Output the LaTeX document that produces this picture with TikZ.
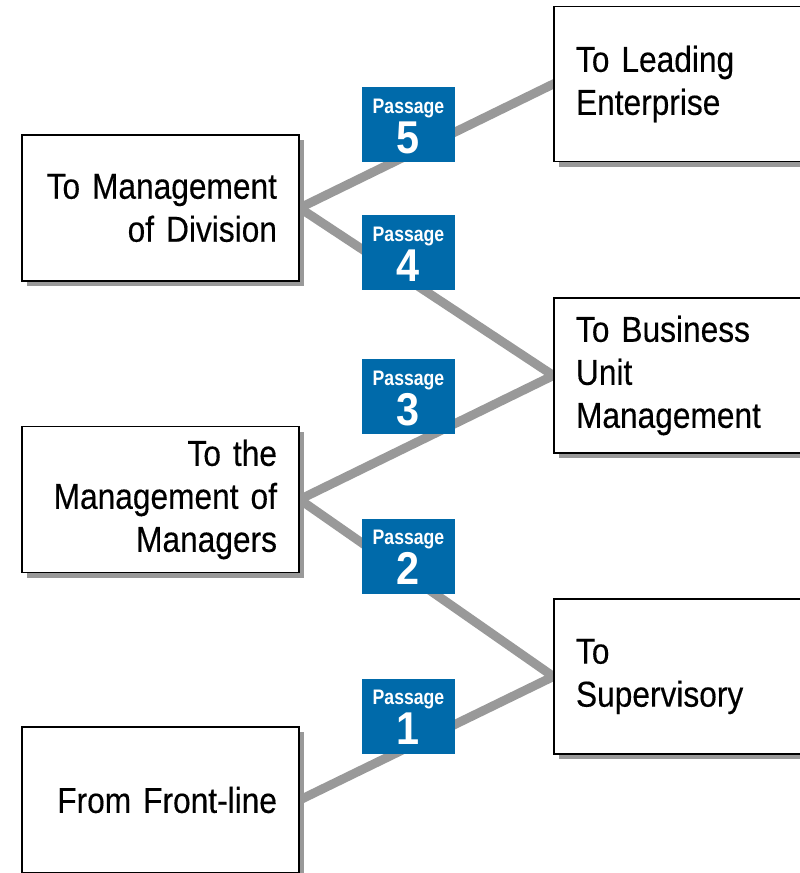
\documentclass[tikz,border=0pt]{standalone}
\usepackage{fontspec}
\setmainfont{Liberation Sans}[FakeStretch=0.88,WordSpace=0.75,FakeBold=0.3]
\newfontfamily\badgefont{Liberation Sans}[FakeStretch=0.84]
\newfontfamily\digitfont{Liberation Sans}[FakeStretch=0.9]
\usetikzlibrary{shadows,backgrounds,calc}
\definecolor{linkgray}{RGB}{153,153,153}
\definecolor{badgeblue}{RGB}{0,106,170}
\hyphenpenalty=10000
\begin{document}
\begin{tikzpicture}[x=1pt,y=-1pt,
  box/.style={draw=black, line width=1.3pt, fill=white, minimum width=277pt,
    inner xsep=22pt, inner ysep=0pt, text width=233pt,
    font=\fontsize{36}{43}\selectfont,
    drop shadow={shadow xshift=5pt, shadow yshift=-5pt, fill=linkgray, opacity=1}},
  lbox/.style={box, align=right, minimum height=146pt},
  rbox/.style={box, align=left, minimum height=155pt},
  link/.style={draw=linkgray, line width=9pt, shorten <=-8pt, shorten >=-8pt},
  badge/.style={fill=badgeblue, minimum width=93pt, minimum height=75pt, inner sep=0pt},
  ptext/.style={text=white, font=\badgefont\bfseries\fontsize{21}{21}\selectfont, inner sep=0pt, anchor=base},
  ntext/.style={text=white, font=\digitfont\bfseries\fontsize{46}{46}\selectfont, inner sep=0pt, anchor=base}
]
\path[use as bounding box, clip] (0,0) rectangle (800,873);

% boxes
\node[lbox] (div) at (160.5,208) {To Management\\of Division};
\node[lbox] (mgr) at (160.5,499.5) {To the\\Management of\\Managers};
\node[lbox] (front) at (160.5,800) {From Front-line};
\node[rbox] (lead) at (692.5,84) {To Leading\\Enterprise};
\node[rbox] (bus) at (692.5,375.5) {To Business\\Unit\\Management};
\node[rbox] (sup) at (692.5,676.5) {To\\Supervisory};

% connectors
\begin{scope}[on background layer]
\draw[link] (div.east) -- (lead.west);
\draw[link] (div.east) -- (bus.west);
\draw[link] (mgr.east) -- (bus.west);
\draw[link] (mgr.east) -- (sup.west);
\draw[link] (front.east) -- (sup.west);
\end{scope}

% passage badges
\node[badge] (b5) at (408.5,124.5) {};
\node[ptext] (p5) at ($(b5.center)+(0,-11.5)$) {Passage};
\node[ntext] (n5) at ($(b5.center)+(0,28.5)$) {5};
\node[badge] (b4) at (408.5,252.5) {};
\node[ptext] (p4) at ($(b4.center)+(0,-11.5)$) {Passage};
\node[ntext] (n4) at ($(b4.center)+(0,28.5)$) {4};
\node[badge] (b3) at (408.5,396.5) {};
\node[ptext] (p3) at ($(b3.center)+(0,-11.5)$) {Passage};
\node[ntext] (n3) at ($(b3.center)+(0,28.5)$) {3};
\node[badge] (b2) at (408.5,556) {};
\node[ptext] (p2) at ($(b2.center)+(0,-11.5)$) {Passage};
\node[ntext] (n2) at ($(b2.center)+(0,28.5)$) {2};
\node[badge] (b1) at (408.5,716) {};
\node[ptext] (p1) at ($(b1.center)+(0,-11.5)$) {Passage};
\node[ntext] (n1) at ($(b1.center)+(0,28.5)$) {1};
\end{tikzpicture}
\end{document}
